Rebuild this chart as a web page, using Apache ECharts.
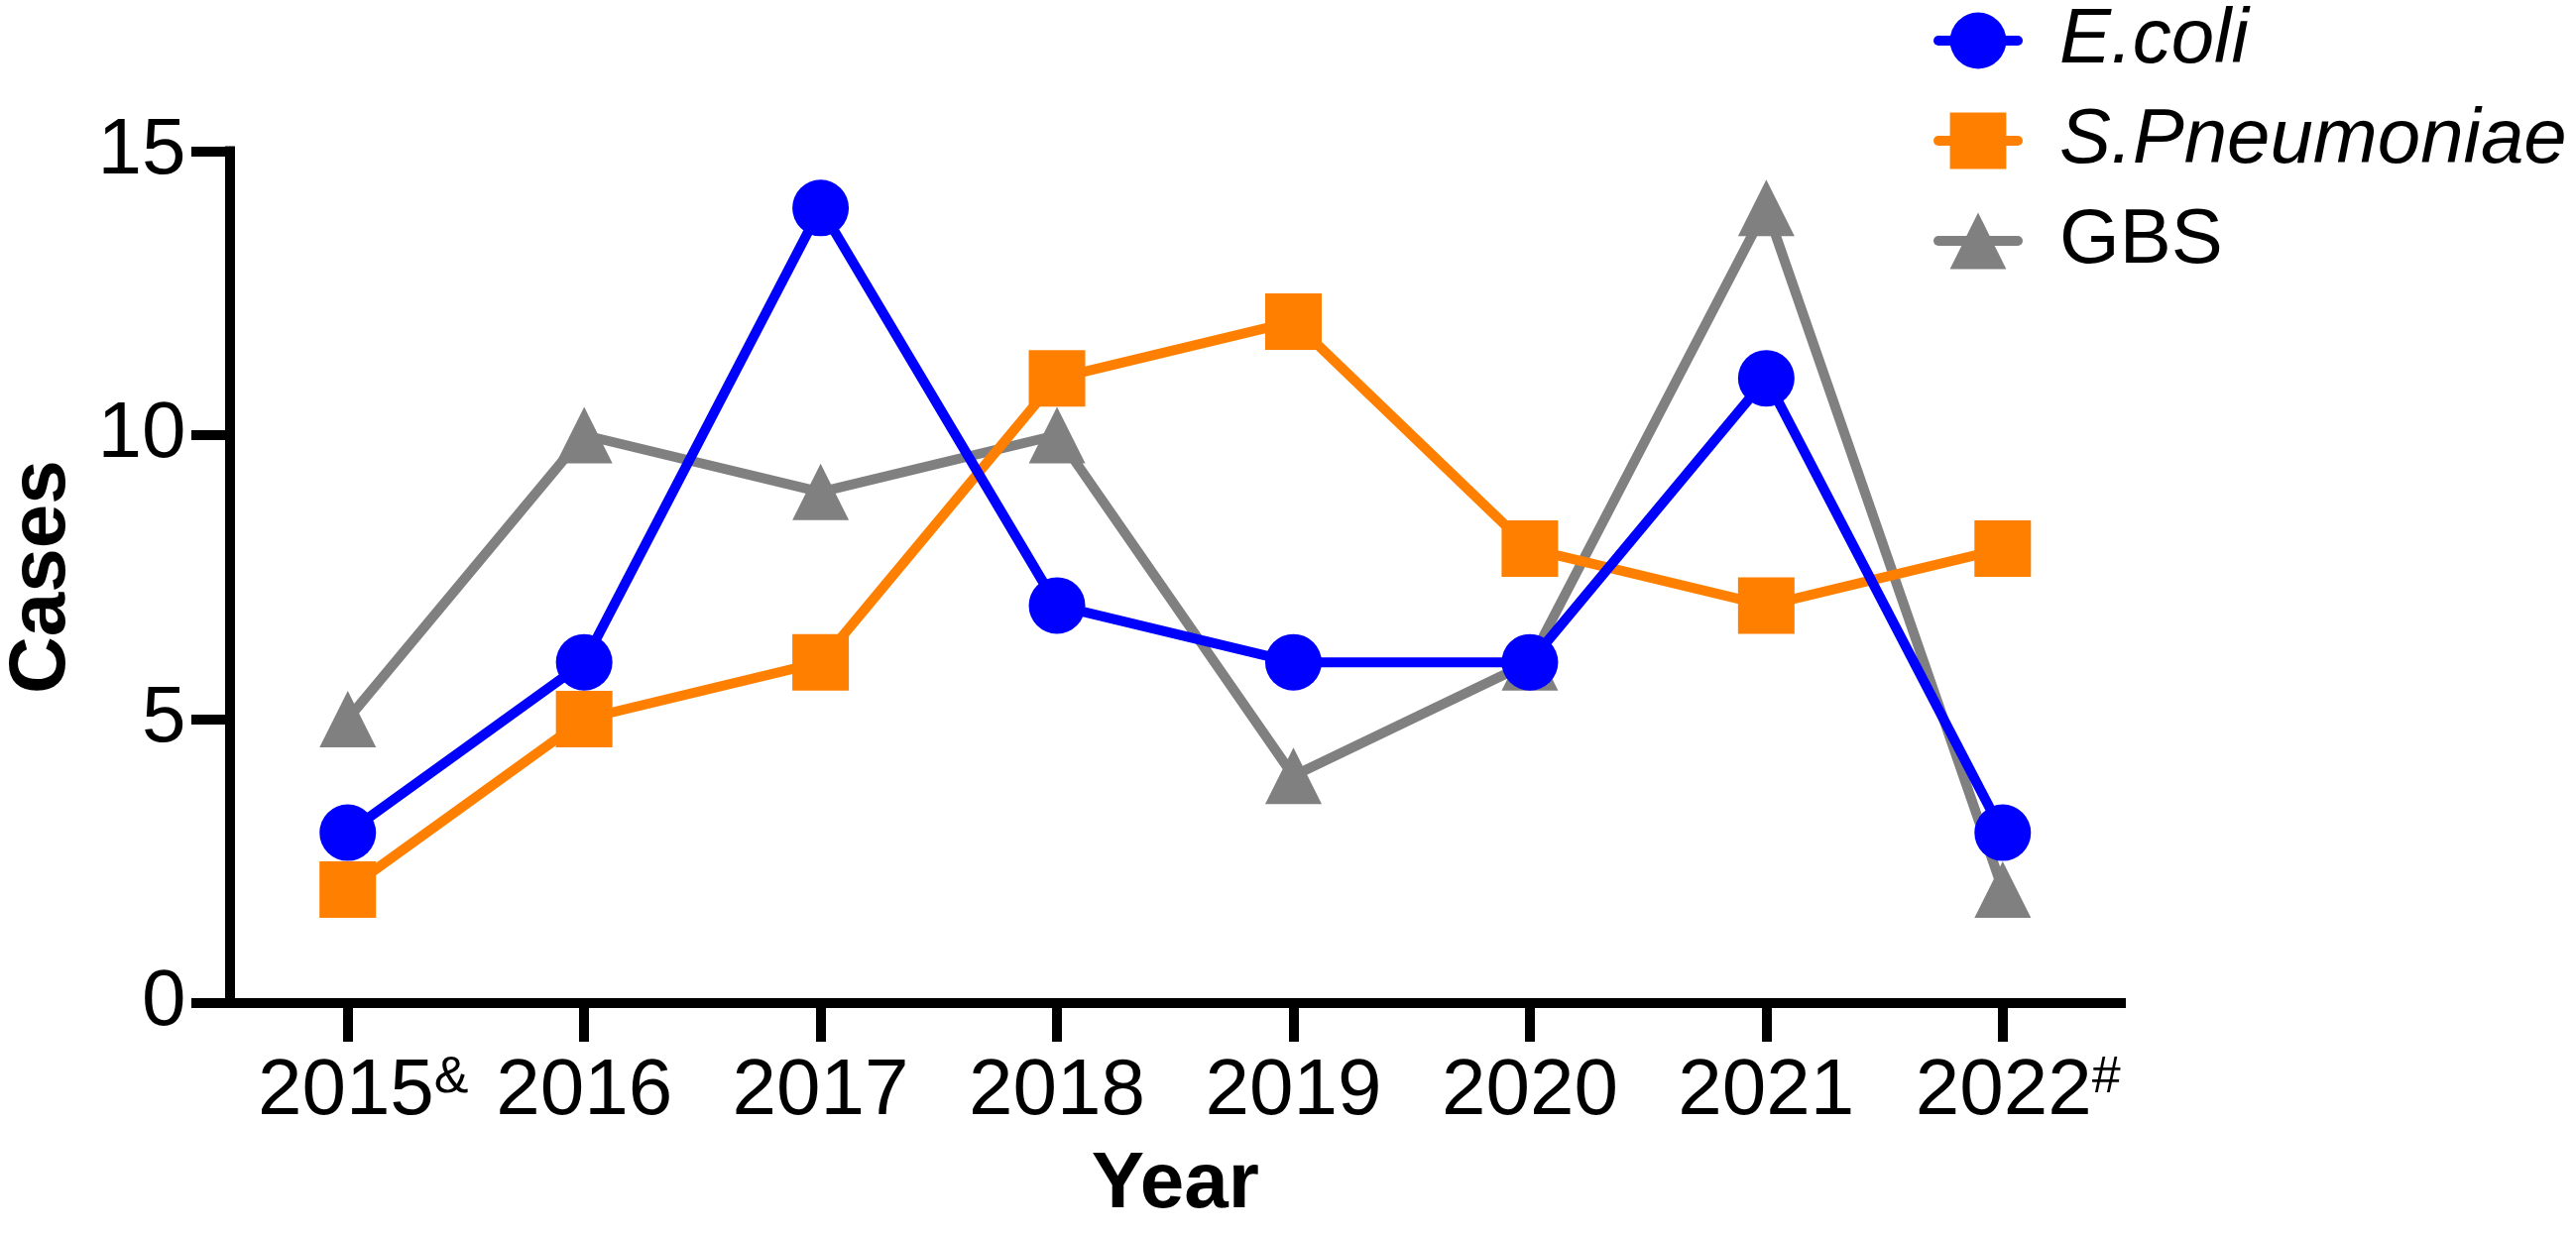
<!DOCTYPE html>
<html><head><meta charset="utf-8">
<script src="https://cdn.jsdelivr.net/npm/echarts@6/dist/echarts.min.js"></script>
<style>html,body{margin:0;padding:0;background:#fff}#c{width:2598px;height:1246px}</style>
</head><body><div id="c"></div>
<script>
const years = ['2015','2016','2017','2018','2019','2020','2021','2022'];
const yearMarks = ['&','','','','','','','#'];
const ecoli = [3,6,14,7,6,6,11,3];
const spneu = [2,5,6,11,12,8,7,8];
const gbs = [5,10,9,10,4,6,14,2];
const seriesNames = ['E.coli','S.Pneumoniae','GBS'];
const italicNames = ['E.coli','S.Pneumoniae'];

const FF = "'Liberation Sans', Arial, Helvetica, sans-serif";
const chart = echarts.init(document.getElementById('c'), null, {renderer:'canvas'});
const option = {
  animation:false,
  backgroundColor:'#fff',
  grid:{left:231.5, right:459, top:152.5, bottom:234, containLabel:false, outerBoundsMode:'none'},
  legend:{
    orient:'vertical', left:1950, top:2, padding:0,
    itemWidth:80, itemHeight:71, itemGap:23,
    data:seriesNames,
    lineStyle:{width:10, cap:'round'},
    textStyle:{fontSize:78, color:'#000', fontFamily:FF,
      rich:{
        i:{fontSize:78, fontStyle:'italic', fontFamily:FF, color:'#000', padding:[0,0,0,37]},
        n:{fontSize:78, fontFamily:FF, color:'#000', padding:[0,0,0,37]}
      }},
    formatter: n => italicNames.includes(n) ? '{i|' + n + '}' : '{n|' + n + '}'
  },
  xAxis:{
    type:'category', data:years, boundaryGap:true,
    name:'Year', nameLocation:'middle', nameGap:144, nameMoveOverlap:false,
    nameTextStyle:{fontSize:80, fontWeight:'bold', color:'#000', fontFamily:FF},
    axisLine:{show:true, lineStyle:{color:'#000', width:10, cap:'square'}},
    axisTick:{show:true, alignWithLabel:true, length:39, lineStyle:{color:'#000', width:10}},
    axisLabel:{interval:0, margin:50, fontSize:80, color:'#000', fontFamily:FF, hideOverlap:false,
      formatter:(v, i) => yearMarks[i] ? '{y|' + v + '}{s|' + yearMarks[i] + '}' : v,
      rich:{
        y:{fontSize:80, color:'#000', fontFamily:FF, padding:[0,0,0,31]},
        s:{fontSize:52, color:'#000', fontFamily:FF, verticalAlign:'top', lineHeight:24}
      }},
    splitLine:{show:false}
  },
  yAxis:{
    type:'value', min:0, max:15, interval:5,
    name:'Cases', nameLocation:'middle', nameGap:149, nameRotate:90, nameMoveOverlap:false,
    nameTextStyle:{fontSize:80, fontWeight:'bold', color:'#000', fontFamily:FF},
    axisLine:{show:true, lineStyle:{color:'#000', width:10, cap:'square'}},
    axisTick:{show:true, length:38.5, lineStyle:{color:'#000', width:10}},
    axisLabel:{fontSize:80, color:'#000', fontFamily:FF, margin:44, hideOverlap:false},
    splitLine:{show:false}
  },
  series:[
    {name:'GBS', type:'line', data:gbs, symbol:'triangle', symbolSize:57,
      lineStyle:{width:10, color:'#808080'}, itemStyle:{color:'#808080'}},
    {name:'S.Pneumoniae', type:'line', data:spneu, symbol:'rect', symbolSize:57,
      lineStyle:{width:10, color:'#FF8000'}, itemStyle:{color:'#FF8000'}},
    {name:'E.coli', type:'line', data:ecoli, symbol:'circle', symbolSize:57,
      lineStyle:{width:10, color:'#0000FF'}, itemStyle:{color:'#0000FF'}}
  ]
};
chart.setOption(option);
</script></body></html>
